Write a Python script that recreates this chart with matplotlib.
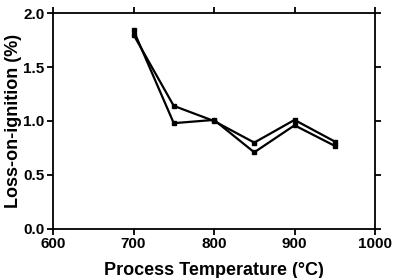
import matplotlib
matplotlib.use("Agg")
import matplotlib.pyplot as plt

temperature = [700, 750, 800, 850, 900, 950]
loi_run1 = [1.84, 0.98, 1.01, 0.71, 0.96, 0.77]
loi_run2 = [1.80, 1.14, 1.00, 0.80, 1.01, 0.81]

x_ticks = [600, 700, 800, 900, 1000]
y_ticks = [0.0, 0.5, 1.0, 1.5, 2.0]

plt.rcParams['font.family'] = ['Liberation Sans', 'DejaVu Sans']
plt.rcParams['font.weight'] = 'bold'

fig = plt.figure(figsize=(3.97, 2.78), dpi=100)
ax = fig.add_axes([0.1335, 0.1763, 0.8111, 0.7769])

for series in (loi_run1, loi_run2):
    ax.plot(temperature, series, color='black', linewidth=1.6,
            marker='s', markersize=3.2, clip_on=False)

ax.set_xlim(600, 1000)
ax.set_ylim(0, 2.0)
ax.set_xticks(x_ticks)
ax.set_yticks(y_ticks)
ax.set_xticklabels([str(v) for v in x_ticks], fontweight='bold', fontsize=11)
ax.set_yticklabels([f"{v:.1f}" for v in y_ticks], fontweight='bold', fontsize=11)

for s in ax.spines.values():
    s.set_linewidth(1.3)

ax.tick_params(axis='both', which='both', direction='out', length=4, width=1.3,
               top=True, right=True, labeltop=False, labelright=False, pad=2)

ax.set_xlabel('Process Temperature (°C)', fontweight='bold', fontsize=13, labelpad=8)
ax.set_ylabel('Loss-on-ignition (%)', fontweight='bold', fontsize=13, labelpad=1)

fig.savefig('out.png', dpi=100)
